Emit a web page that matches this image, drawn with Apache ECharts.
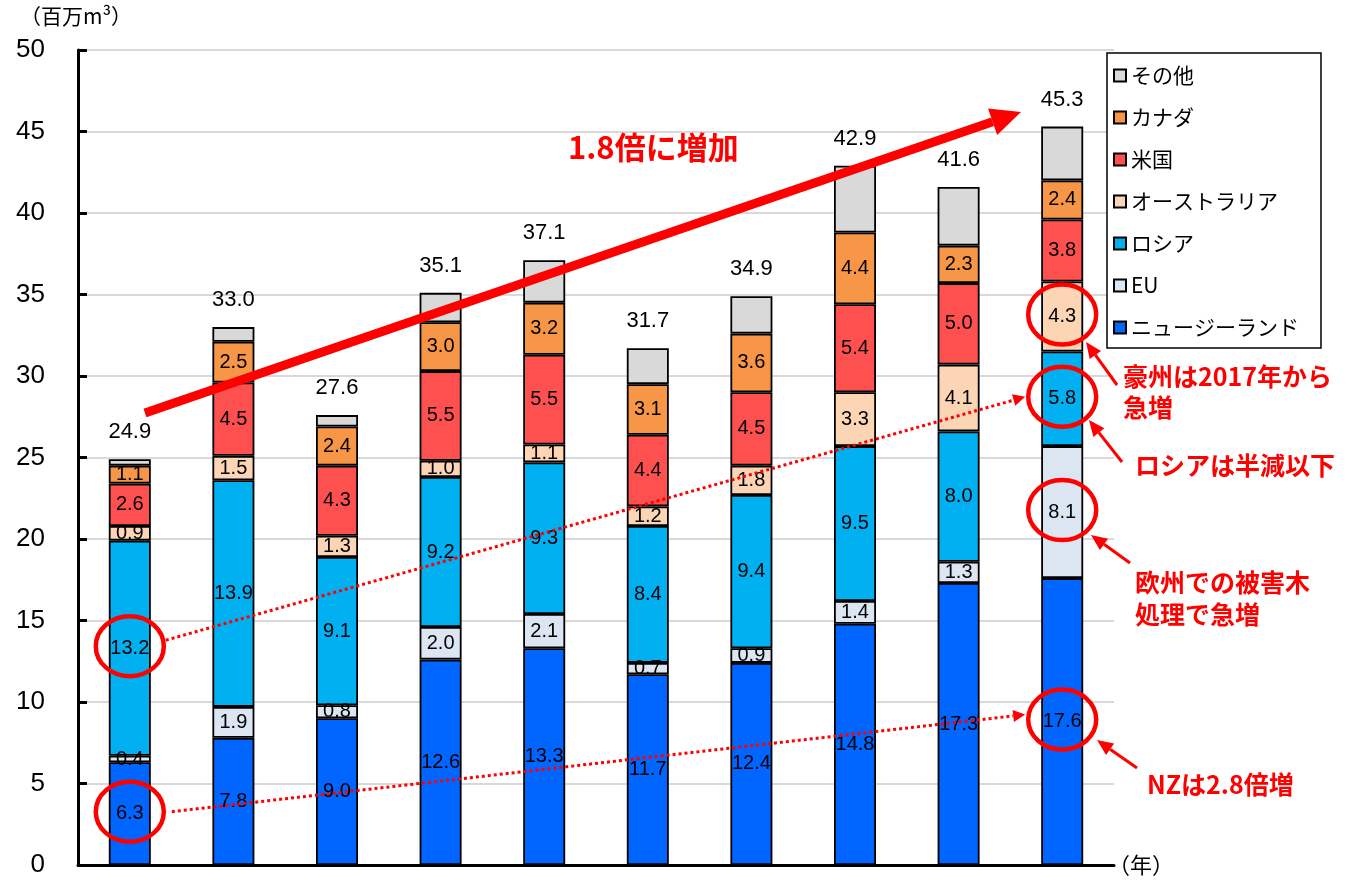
<!DOCTYPE html>
<html>
<head>
<meta charset="utf-8">
<script src="https://cdn.jsdelivr.net/npm/echarts@6/dist/echarts.min.js"></script>
<style>
	html, body { margin: 0; padding: 0; background: #fff; }
	#chart { width: 1346px; height: 886px; }
</style>
</head>
<body>
<div id="chart"></div>
<script>
"use strict";

// 丸太輸入量の推移（百万m3）
const years = ["2010", "2011", "2012", "2013", "2014", "2015", "2016", "2017", "2018", "2019"];
const nz = [6.3, 7.8, 9.0, 12.6, 13.3, 11.7, 12.4, 14.8, 17.3, 17.6];
const eu = [0.4, 1.9, 0.8, 2.0, 2.1, 0.7, 0.9, 1.4, 1.3, 8.1];
const russia = [13.2, 13.9, 9.1, 9.2, 9.3, 8.4, 9.4, 9.5, 8.0, 5.8];
const australia = [0.9, 1.5, 1.3, 1.0, 1.1, 1.2, 1.8, 3.3, 4.1, 4.3];
const usa = [2.6, 4.5, 4.3, 5.5, 5.5, 4.4, 4.5, 5.4, 5.0, 3.8];
const canada = [1.1, 2.5, 2.4, 3.0, 3.2, 3.1, 3.6, 4.4, 2.3, 2.4];
const others = [0.4, 0.9, 0.7, 1.8, 2.6, 2.2, 2.3, 4.1, 3.6, 3.3];
const totals = [24.9, 33.0, 27.6, 35.1, 37.1, 31.7, 34.9, 42.9, 41.6, 45.3];

const RED = "#ff0000";
const JP = "Noto Sans CJK JP";

// stack order bottom -> top
const stack = [
	{ name: "ニュージーランド", data: nz, color: "#0066ff" },
	{ name: "EU", data: eu, color: "#dce6f2" },
	{ name: "ロシア", data: russia, color: "#00b0f0" },
	{ name: "オーストラリア", data: australia, color: "#fcd5b5" },
	{ name: "米国", data: usa, color: "#ff5050" },
	{ name: "カナダ", data: canada, color: "#f79646" },
	{ name: "その他", data: others, color: "#d9d9d9" }
];

const chart = echarts.init(document.getElementById("chart"));

const series = stack.map((s, k) => {
	const isTop = k === stack.length - 1;
	return {
		name: s.name,
		type: "bar",
		stack: "total",
		barWidth: 42,
		data: s.data,
		itemStyle: { color: s.color, borderColor: "#000", borderWidth: 1.8 },
		label: isTop ? {
			show: true,
			position: "top",
			distance: 16,
			color: "#000",
			fontSize: 22,
			fontFamily: "Liberation Sans",
			formatter: (p) => totals[p.dataIndex].toFixed(1)
		} : {
			show: true,
			position: "inside",
			color: "#000",
			fontSize: 20,
			fontFamily: "Liberation Sans",
			formatter: (p) => p.value.toFixed(1)
		}
	};
});

chart.setOption({
	animation: false,
	grid: { left: 78, right: 232, top: 50, bottom: 21 },
	xAxis: {
		type: "category",
		data: years,
		name: "（年）",
		nameGap: -6,
		nameTextStyle: { fontSize: 22, color: "#000", fontFamily: JP, padding: [16, 0, 0, 0] },
		axisLabel: { show: false },
		axisTick: { show: false },
		axisLine: { lineStyle: { color: "#000", width: 3 } }
	},
	yAxis: {
		type: "value",
		min: 0,
		max: 50,
		interval: 5,
		axisLine: { show: true, lineStyle: { color: "#000", width: 3 } },
		axisTick: { show: true, inside: true, length: 9, lineStyle: { color: "#000", width: 3 } },
		axisLabel: { fontSize: 26, color: "#000", margin: 33, fontFamily: "Liberation Sans" },
		splitLine: { lineStyle: { color: "#d9d9d9", width: 2 } }
	},
	legend: {
		orient: "vertical",
		left: 1107,
		top: 53,
		data: ["その他", "カナダ", "米国", "オーストラリア", "ロシア", "EU", "ニュージーランド"],
		icon: "rect",
		itemWidth: 12,
		itemHeight: 12,
		itemGap: 21,
		padding: [12, 22, 10, 6],
		backgroundColor: "#fff",
		borderColor: "#000",
		borderWidth: 1.5,
		borderRadius: 0,
		textStyle: { fontSize: 21, color: "#000", fontFamily: JP }
	},
	series: series
});

// --- annotations ---
const px = (i, v) => chart.convertToPixel({ gridIndex: 0 }, [i, v]);

// centre of segment k in bar i
const segMid = (i, k) => {
	let base = 0;
	for (let j = 0; j < k; j++)
		base += stack[j].data[i];
	return base + stack[k].data[i] / 2;
};

const arrow = (x1, y1, x2, y2, w, hl, hw, dash) => {
	const len = Math.hypot(x2 - x1, y2 - y1);
	const ux = (x2 - x1) / len, uy = (y2 - y1) / len;
	const bx = x2 - ux * hl, by = y2 - uy * hl;
	const nx = -uy, ny = ux;
	return [
		{ type: "line", z: 100, shape: { x1: x1, y1: y1, x2: bx, y2: by },
			style: { stroke: RED, lineWidth: w, lineDash: dash || null } },
		{ type: "polygon", z: 100,
			shape: { points: [[x2, y2], [bx + nx * hw / 2, by + ny * hw / 2], [bx - nx * hw / 2, by - ny * hw / 2]] },
			style: { fill: RED } }
	];
};

const ring = (c) => ({
	type: "ellipse", z: 100,
	shape: { cx: c[0], cy: c[1] - 2, rx: 34, ry: 30 },
	style: { fill: null, stroke: RED, lineWidth: 4.5 }
});

const note = (text, x, y, size, lh) => ({
	type: "text", z: 100,
	style: {
		text: text, x: x, y: y, fill: RED,
		font: "bold " + size + "px \"" + JP + "\"",
		lineHeight: lh || size + 6,
		align: "left", verticalAlign: "top"
	}
});

const last = years.length - 1;
const cRus0 = px(0, segMid(0, 2));
const cNz0 = px(0, segMid(0, 0));
const cAus = px(last, segMid(last, 3));
const cRus = px(last, segMid(last, 2));
const cEu = px(last, segMid(last, 1));
const cNz = px(last, segMid(last, 0));

const graphics = [
	{ type: "text", left: 20, top: 6, style: { text: "（百万m³）", fill: "#000", font: "21px \"" + JP + "\"" } },
	ring(cRus0), ring(cNz0), ring(cAus), ring(cRus), ring(cEu), ring(cNz),
	...arrow(145, 413, 1021, 112, 9, 30, 28),
	...arrow(cRus0[0] + 36, cRus0[1] - 8, cRus[0] - 37, cRus[1] - 2, 3, 12, 12, [3, 3]),
	...arrow(cNz0[0] + 42, cNz0[1] - 2, cNz[0] - 37, cNz[1] - 7, 3, 12, 12, [3, 3]),
	...arrow(1117, 385, 1086, 342, 3, 16, 14),
	...arrow(1122, 462, 1089, 420, 3, 16, 14),
	...arrow(1130, 563, 1091, 535, 3, 16, 14),
	...arrow(1137, 768, 1097, 740, 3, 16, 14),
	{ type: "text", z: 100, style: { text: "1.8倍に増加", x: 568, y: 147, fill: RED,
		font: "bold 31px \"" + JP + "\"", verticalAlign: "middle" } },
	note("豪州は2017年から\n急増", 1123, 361, 25, 31),
	note("ロシアは半減以下", 1135, 450, 25),
	note("欧州での被害木\n処理で急増", 1135, 566, 25, 32),
	note("NZは2.8倍増", 1147, 769, 25)
];

chart.setOption({ graphic: graphics });
</script>
</body>
</html>
